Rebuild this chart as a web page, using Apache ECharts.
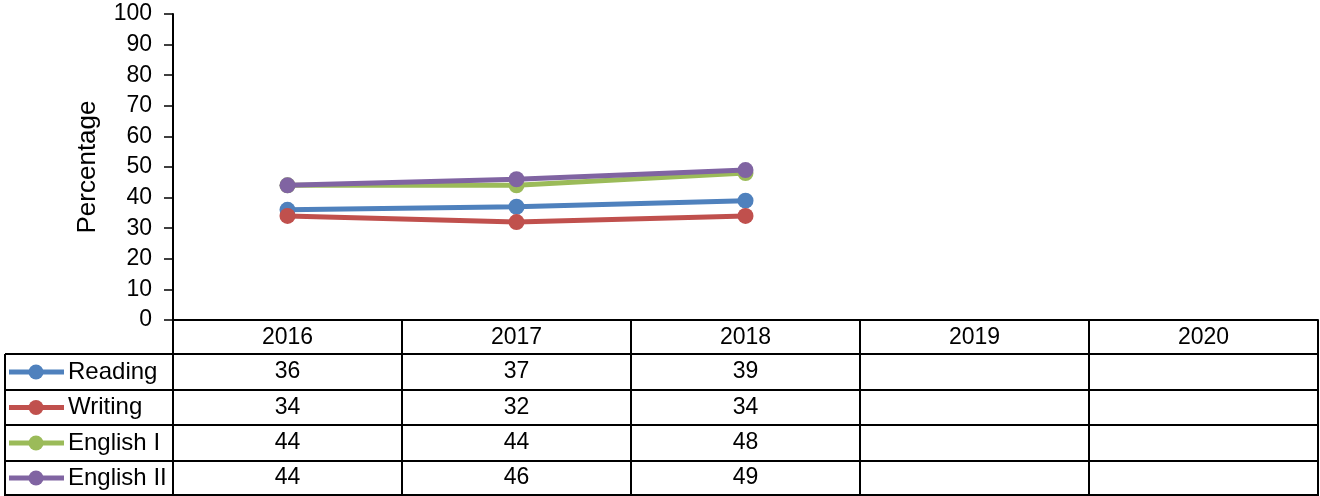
<!DOCTYPE html>
<html><head><meta charset="utf-8">
<script src="https://cdn.jsdelivr.net/npm/echarts@6/dist/echarts.min.js"></script>
<style>html,body{margin:0;padding:0;background:#fff}#c{width:1320px;height:496px}</style>
</head><body><div id="c"></div>
<script>
const categories = ['2016','2017','2018','2019','2020'];
const seriesNames = ['Reading','Writing','English I','English II'];
const reading = [36,37,39,null,null];
const writing = [34,32,34,null,null];
const english1 = [44,44,48,null,null];
const english2 = [44,46,49,null,null];
const yTicks = [0,10,20,30,40,50,60,70,80,90,100];
const colors = ['#4F81BD','#C0504D','#9BBB59','#8064A2'];
const allData = [reading, writing, english1, english2];

const FONT = '"Liberation Sans", Arial, sans-serif';
const FS = 23;
const chart = echarts.init(document.getElementById('c'));
const GL = 173, GR = 2, GT = 14, AXY = 320;
chart.setOption({
  animation:false,
  textStyle:{fontFamily:FONT},
  grid:{left:GL, right:GR, top:GT, height:AXY-GT},
  xAxis:{type:'category', data:categories, boundaryGap:true,
    axisLine:{lineStyle:{color:'#000', width:2}}, axisTick:{show:false},
    axisLabel:{color:'#000', fontSize:FS, fontFamily:FONT, margin:6}},
  yAxis:{type:'value', min:yTicks[0], max:yTicks[yTicks.length-1], interval:10,
    name:'Percentage', nameLocation:'middle', nameRotate:90, nameGap:72,
    nameTextStyle:{color:'#000', fontSize:26, fontFamily:FONT},
    axisLine:{show:true, lineStyle:{color:'#000', width:2}},
    axisTick:{show:true, inside:false, length:9, lineStyle:{color:'#000', width:1.5}},
    splitLine:{show:false},
    axisLabel:{color:'#000', fontSize:FS, fontFamily:FONT, margin:21}},
  series: seriesNames.map((n,i)=>({name:n, type:'line', data:allData[i],
    symbol:'circle', symbolSize:16, lineStyle:{width:5, color:colors[i]},
    itemStyle:{color:colors[i]}, z:2+i}))
});

// data table
const n = categories.length;
const cx = categories.map((c,i)=>chart.convertToPixel({xAxisIndex:0}, i));
const band = cx.length>1 ? cx[1]-cx[0] : 229;
const bounds = [cx[0]-band/2].concat(cx.map(x=>x+band/2));
const rowY = [AXY, 354, 390, 425, 461, 495];
const LEFT = 5;
const g = [];
const ls = {stroke:'#000', lineWidth:2};
for (let r=1; r<rowY.length; r++) {
  g.push({type:'line', shape:{x1:LEFT, y1:rowY[r], x2:bounds[n], y2:rowY[r]}, style:ls, silent:true});
}
g.push({type:'line', shape:{x1:bounds[0], y1:AXY, x2:bounds[0], y2:496}, style:ls});
g.push({type:'line', shape:{x1:LEFT, y1:rowY[1], x2:LEFT, y2:496}, style:ls});
for (let k=1; k<=n; k++) {
  g.push({type:'line', shape:{x1:bounds[k], y1:AXY, x2:bounds[k], y2:496}, style:ls});
}
seriesNames.forEach((name,i)=>{
  const yc = (rowY[i+1]+rowY[i+2])/2;
  g.push({type:'line', shape:{x1:9, y1:yc, x2:64, y2:yc}, style:{stroke:colors[i], lineWidth:5}});
  g.push({type:'circle', shape:{cx:36, cy:yc, r:7.5}, style:{fill:colors[i]}});
  g.push({type:'text', x:68, y:yc, style:{text:name, font:'24px '+FONT, fill:'#000', textVerticalAlign:'middle', textAlign:'left'}});
  allData[i].forEach((v,j)=>{
    if (v==null) return;
    g.push({type:'text', x:cx[j], y:yc, style:{text:String(v), font:FS+'px '+FONT, fill:'#000', textAlign:'center', textVerticalAlign:'middle'}});
  });
});
chart.setOption({graphic:g});
</script></body></html>
